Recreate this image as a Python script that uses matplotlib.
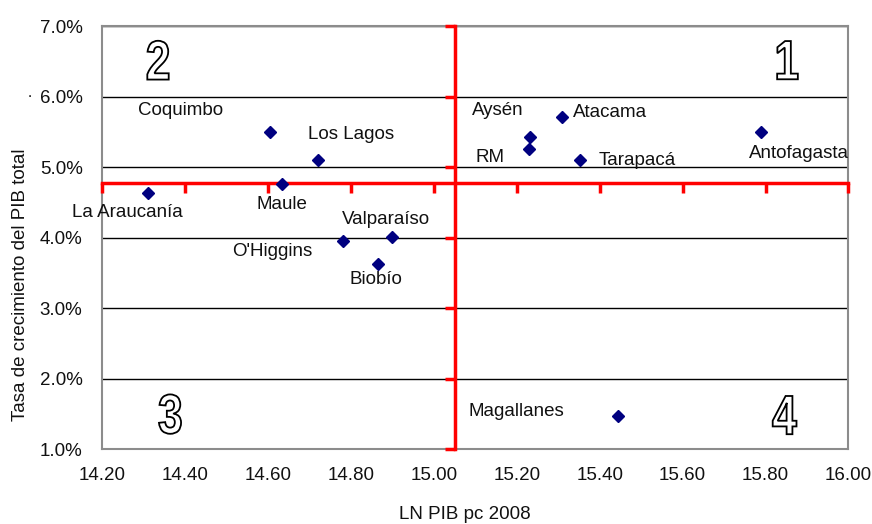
import matplotlib
matplotlib.use("Agg")
import matplotlib.pyplot as plt
from matplotlib.patches import PathPatch
from matplotlib.textpath import TextPath
from matplotlib.font_manager import FontProperties
from matplotlib.transforms import Affine2D, ScaledTranslation
from matplotlib.ticker import FuncFormatter, MultipleLocator

plt.rcParams['font.family'] = ['Liberation Sans', 'DejaVu Sans']

# data: LN PIB pc 2008 vs growth rate (%)
regions = ['La Araucanía', 'Coquimbo', 'Maule', 'Los Lagos', "O'Higgins", 'Valparaíso',
           'Biobío', 'Aysén', 'RM', 'Atacama', 'Tarapacá', 'Antofagasta', 'Magallanes']
ln_pib = [14.31, 14.605, 14.635, 14.72, 14.78, 14.90, 14.865, 15.233, 15.23, 15.31, 15.353, 15.788, 15.445]
growth = [4.63, 5.50, 4.76, 5.10, 3.95, 4.01, 3.62, 5.43, 5.26, 5.71, 5.10, 5.50, 1.47]

# label positions (data coords) for each region
label_x = [14.26, 14.39, 14.635, 14.80, 14.61, 14.885, 14.86, 15.155, 15.135, 15.425, 15.49, 15.88, 15.20]
label_y = [4.35, 5.80, 4.47, 5.46, 3.80, 4.26, 3.40, 5.80, 5.14, 5.78, 5.10, 5.20, 1.54]

# quadrant reference lines
x_cross = 15.05
y_cross = 4.77

quad_labels = ['1', '2', '3', '4']
quad_x = [15.853, 14.335, 14.364, 15.846]
quad_y = [6.518, 6.518, 1.496, 1.482]

fig = plt.figure(figsize=(8.72, 5.24), dpi=100)
ax = fig.add_axes([0.117, 0.143, 0.856, 0.807])
ax.set_xlim(14.2, 16.0)
ax.set_ylim(1.0, 7.0)

ax.yaxis.set_major_locator(MultipleLocator(1.0))
ax.xaxis.set_major_locator(MultipleLocator(0.2))
ax.yaxis.set_major_formatter(FuncFormatter(lambda v, p: f'{v:.1f}%'))
ax.xaxis.set_major_formatter(FuncFormatter(lambda v, p: f'{v:.2f}'))
ax.tick_params(axis='both', length=0, labelsize=13.5, colors='#111111')
ax.tick_params(axis='y', pad=14)
ax.tick_params(axis='x', pad=13)
ax.yaxis.grid(True, color='black', linewidth=1)
ax.set_axisbelow(True)
for s in ax.spines.values():
    s.set_color('#8c8c8c')
    s.set_linewidth(1.5)

fig.text(0.533, 0.019, 'LN PIB pc 2008', fontsize=13.5, ha='center', va='center', color='#111111')
fig.text(0.023, 0.456, 'Tasa de crecimiento del PIB total', fontsize=13.5, rotation=90,
         ha='center', va='center', color='#111111')
fig.text(0.032, 0.815, '.', fontsize=11)

# red crossing axes with tick marks
ax2 = fig.add_axes(ax.get_position(), facecolor='none')
ax2.set_xlim(ax.get_xlim())
ax2.set_ylim(ax.get_ylim())
ax2.xaxis.set_major_locator(MultipleLocator(0.2))
ax2.yaxis.set_major_locator(MultipleLocator(1.0))
ax2.spines['top'].set_visible(False)
ax2.spines['right'].set_visible(False)
ax2.spines['left'].set_position(('data', x_cross))
ax2.spines['bottom'].set_position(('data', y_cross))
for k in ['left', 'bottom']:
    ax2.spines[k].set_color('#ff0000')
    ax2.spines[k].set_linewidth(2.5)
ax2.tick_params(colors='#ff0000', length=7, width=2.5, direction='out',
                labelbottom=False, labelleft=False)

ax2.plot(ln_pib, growth, linestyle='none', marker='D', markersize=6,
         color='#000080', zorder=5, clip_on=False)

for name, lx, ly in zip(regions, label_x, label_y):
    ax2.text(lx, ly, name, fontsize=13.5, ha='center', va='center', color='#111111')

# hollow, condensed quadrant numbers
fp = FontProperties(family='Liberation Sans', weight='bold')
px = fig.dpi / 72.0
for q, qx, qy in zip(quad_labels, quad_x, quad_y):
    tp = TextPath((0, 0), q, size=40, prop=fp)
    ext = tp.get_extents()
    cx, cy = (ext.x0 + ext.x1) / 2, (ext.y0 + ext.y1) / 2
    tr = (Affine2D().translate(-cx, -cy).scale(0.8 * px, 1.0 * px)
          + ScaledTranslation(qx, qy, ax2.transData))
    ax2.add_patch(PathPatch(tp, transform=tr, facecolor='white',
                            edgecolor='black', linewidth=1.3, zorder=6))

fig.savefig('out.png', dpi=100)
